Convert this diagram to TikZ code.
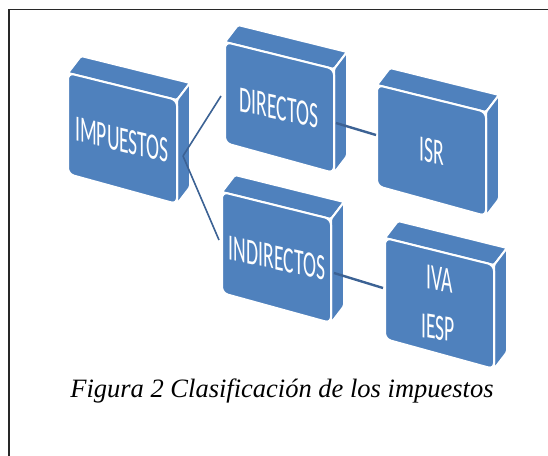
\documentclass[tikz,border=0pt]{standalone}
\usepackage{fontspec}
\usepackage{graphicx}
\setmainfont{Liberation Serif}
\newfontfamily\carlito{Carlito}
\definecolor{boxblue}{RGB}{79,129,189}
\definecolor{linkblue}{RGB}{60,98,148}
\definecolor{framegray}{RGB}{40,40,40}
\tikzset{
  face/.style={fill=boxblue, draw=white, line width=2pt, line join=round},
  frontface/.style={face, rounded corners=6pt},
  sideface/.style={face, rounded corners=1.5pt},
  boxtext/.style={text=white, inner sep=0pt, transform shape,
    font=\carlito\fontsize{37}{40}\selectfont},
  link/.style={draw=linkblue, line width=1.6pt},
  thicklink/.style={draw=linkblue, line width=2.4pt},
}
\newcommand\sq[1]{\scalebox{0.53}[1]{#1}}
% #1 name, #2 x, #3 y of front top-left corner (y grows downward)
\newcommand\slab[3]{%
  \coordinate (#1-tl) at (#2,#3);
  \coordinate (#1-tr) at (#2+109,#3+27);
  \coordinate (#1-br) at (#2+109,#3+131);
  \coordinate (#1-bl) at (#2,#3+101);
  \path[sideface] (#1-tl) -- (#1-tr) -- (#2+122,#3+10) -- (#2+13,#3-17) -- cycle;
  \path[sideface] (#1-tr) -- (#2+122,#3+10) -- (#2+122,#3+114) -- (#1-br) -- cycle;
  \path[frontface] (#1-tl) -- (#1-tr) -- (#1-br) -- (#1-bl) -- cycle;
}
% #1 name, #2 x, #3 y, #4 slant, #5 text
\newcommand\boxlabel[5]{%
  \begin{scope}[shift={(#2,#3)}, yslant=#4]
    \node[boxtext] (#1) at (0,0) {\sq{#5}};
  \end{scope}}
\begin{document}
\begin{tikzpicture}[x=1pt,y=-1pt]
\useasboundingbox (0,0) rectangle (548,455);
\clip (0,0) rectangle (548,455);
\draw[framegray, line width=1.2pt] (9,9.5) rectangle (600,500);

\slab{impbox}{68}{73}
\slab{dirbox}{225}{42}
\slab{isrbox}{377}{85}
\slab{indbox}{222}{192}
\slab{ivabox}{385}{238}

\boxlabel{imp}{122}{140}{-0.24}{IMPUESTOS}
\boxlabel{dir}{279}{108}{-0.22}{DIRECTOS}
\boxlabel{isr}{432}{151}{-0.2}{ISR}
\boxlabel{ind}{277}{258}{-0.22}{INDIRECTOS}
\boxlabel{iva}{440}{279}{-0.16}{IVA}
\boxlabel{iesp}{438}{328}{-0.16}{IESP}

\coordinate (imp-out) at (183,156);
\coordinate (dir-in) at (221,96);
\coordinate (ind-in) at (219,240);
\coordinate (dir-out) at (336,123);
\coordinate (isr-in) at (376,135);
\coordinate (ind-out) at (334,273);
\coordinate (iva-in) at (383,288);

\draw[link] (imp-out) -- (dir-in);
\draw[link] (imp-out) -- (ind-in);
\draw[thicklink] (dir-out) -- (isr-in);
\draw[thicklink] (ind-out) -- (iva-in);

\node[font=\itshape\fontsize{26.5}{30}\selectfont, anchor=base, inner sep=0pt]
  (caption) at (282,397) {Figura 2 Clasificación de los impuestos};
\end{tikzpicture}
\end{document}
